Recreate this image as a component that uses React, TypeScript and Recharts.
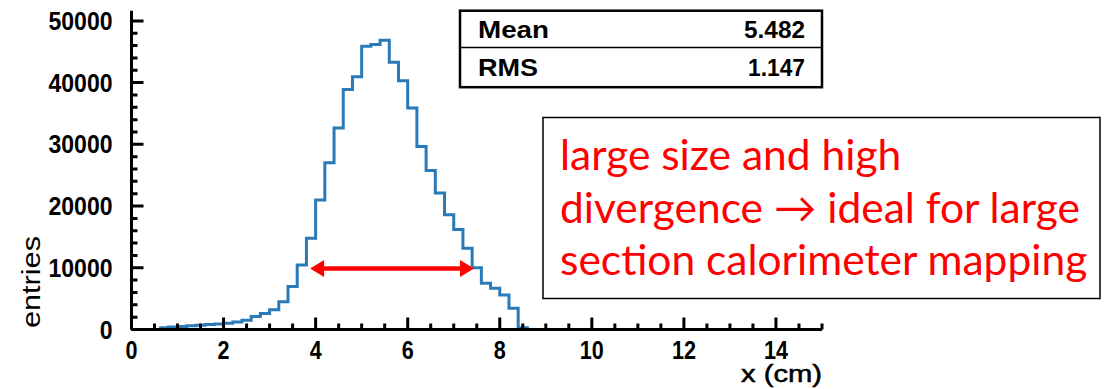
import React from 'react';
import { ComposedChart, Line, XAxis, YAxis, ReferenceLine } from 'recharts';

// ---- data ----
const binStart = 0.6;
const binWidth = 0.2;
const counts = [
  300, 400, 500, 600, 700, 800, 900, 1000, 1200, 1500,
  2100, 2600, 3200, 4500, 6950, 10470, 14800, 21000, 27000, 32650,
  38870, 40930, 45900, 46170, 46870, 43300, 40300, 35900, 29650, 25750,
  22100, 18580, 16200, 13180, 10000, 7500, 6700, 5600, 3440, 300,
];
const emptyFrom = 8.6;
const xMin = 0;
const xMax = 15;
const yMax = 51650;

const xTicks = [0, 0.5, 1, 1.5, 2, 2.5, 3, 3.5, 4, 4.5, 5, 5.5, 6, 6.5, 7, 7.5, 8, 8.5, 9, 9.5, 10, 10.5, 11, 11.5, 12, 12.5, 13, 13.5, 14, 14.5, 15];
const xMajor = [0, 2, 4, 6, 8, 10, 12, 14];
const yTicks = [0, 2000, 4000, 6000, 8000, 10000, 12000, 14000, 16000, 18000, 20000, 22000, 24000, 26000, 28000, 30000, 32000, 34000, 36000, 38000, 40000, 42000, 44000, 46000, 48000, 50000];
const yMajor = [0, 10000, 20000, 30000, 40000, 50000];

const statsLabels = ['Mean', 'RMS'];
const statsValues = ['5.482', '1.147'];
const noteLines = ['large size and high', 'divergence \u2192 ideal for large', 'section calorimeter mapping'];
const arrowFrom = 3.88;
const arrowTo = 7.44;
const arrowLevel = 9900;

const data = [
  ...counts.map((c, i) => ({ x: +(binStart + i * binWidth).toFixed(2), count: c })),
  { x: emptyFrom, count: 0 },
  { x: xMax, count: 0 },
];

// ---- layout ----
const W = 1110;
const H = 389;
const PLOT_LEFT = 131.5;
const PLOT_TOP = 10.7;
const PLOT_RIGHT = 822;
const PLOT_BOTTOM = 329.5;
const xPx = (v: number) => PLOT_LEFT + ((v - xMin) / (xMax - xMin)) * (PLOT_RIGHT - PLOT_LEFT);
const yPx = (v: number) => PLOT_BOTTOM - (v / yMax) * (PLOT_BOTTOM - PLOT_TOP);

const tickPath =
  xTicks.map((v) => `M${xPx(v)},${PLOT_BOTTOM}V${PLOT_BOTTOM - (xMajor.includes(v) ? 12 : 6)}`).join('') +
  yTicks.map((v) => `M${PLOT_LEFT},${yPx(v)}H${PLOT_LEFT + (yMajor.includes(v) ? 12 : 6)}`).join('');

const rootFont = "'Liberation Sans', Arial, sans-serif";

const XTickLabel = (props: any) => {
  const { x, y, payload } = props;
  const label = String(payload.value);
  return (
    <text x={x} y={y} textAnchor="middle" fontFamily={rootFont} fontWeight="bold" fontSize={25} fill="#000"
      textLength={label.length * 12} lengthAdjust="spacingAndGlyphs">{label}</text>
  );
};

const YTickLabel = (props: any) => {
  const { x, y, payload } = props;
  const label = String(payload.value);
  return (
    <text x={x} y={y} dy="0.36em" textAnchor="end" fontFamily={rootFont} fontWeight="bold" fontSize={25} fill="#000"
      textLength={label.length * 12.8} lengthAdjust="spacingAndGlyphs">{label}</text>
  );
};

const ArrowShape = (props: any) => {
  const { x1, y1, x2, y2 } = props;
  const head = 14;
  const half = 8.5;
  return (
    <g>
      <line x1={x1 + head - 2} y1={y1} x2={x2 - head + 2} y2={y2} stroke="#ff0000" strokeWidth={4.5} />
      <polygon points={`${x1},${y1} ${x1 + head},${y1 - half} ${x1 + head},${y1 + half}`} fill="#ff0000" />
      <polygon points={`${x2},${y2} ${x2 - head},${y2 - half} ${x2 - head},${y2 + half}`} fill="#ff0000" />
    </g>
  );
};

export default function App() {
  return (
    <div style={{ position: 'absolute', left: 0, top: 0, width: W, height: H, background: '#fff' }}>
      <ComposedChart width={W} height={H} data={data}
        margin={{ top: PLOT_TOP, right: W - PLOT_RIGHT, bottom: 0, left: 0 }}>
        <XAxis dataKey="x" type="number" domain={[xMin, xMax]} ticks={xMajor} interval={0} tickSize={0} tickMargin={29}
          tickLine={false} tick={<XTickLabel />} height={H - PLOT_BOTTOM} axisLine={{ stroke: '#000', strokeWidth: 3 }} />
        <XAxis xAxisId="top" orientation="top" type="number" domain={[xMin, xMax]} height={0} tick={false} tickLine={false}
          axisLine={{ stroke: '#000', strokeWidth: 2.5 }} />
        <YAxis type="number" domain={[0, yMax]} ticks={yMajor} interval={0} tickSize={0} tickMargin={19}
          tickLine={false} tick={<YTickLabel />} width={PLOT_LEFT} axisLine={{ stroke: '#000', strokeWidth: 3 }} />
        <YAxis yAxisId="right" orientation="right" type="number" domain={[0, yMax]} width={0} tick={false} tickLine={false}
          axisLine={{ stroke: '#000', strokeWidth: 2.5 }} />
        <Line type="stepAfter" dataKey="count" stroke="#2a7ab8" strokeWidth={3} dot={false} activeDot={false} isAnimationActive={false} />
        <ReferenceLine segment={[{ x: arrowFrom, y: arrowLevel }, { x: arrowTo, y: arrowLevel }]} shape={(p: any) => <ArrowShape {...p} />} />
      </ComposedChart>
      <svg width={W} height={H} style={{ position: 'absolute', left: 0, top: 0, pointerEvents: 'none' }}>
        {/* inward ROOT-style tick marks */}
        <path d={tickPath} fill="none" stroke="#000" strokeWidth={3} />
        {/* axis titles */}
        <text transform="translate(40,328) rotate(-90)" fontFamily={rootFont} fontSize={25} fill="#000"
          textLength={92} lengthAdjust="spacingAndGlyphs">entries</text>
        <text x={PLOT_RIGHT} y={382} textAnchor="end" fontFamily={rootFont} fontSize={23} fill="#000" stroke="#000" strokeWidth={0.5}
          textLength={81} lengthAdjust="spacingAndGlyphs">x (cm)</text>
        {/* stats box */}
        <rect x={460} y={PLOT_TOP} width={PLOT_RIGHT - 460} height={76.5} fill="#fff" stroke="#000" strokeWidth={2.5} />
        <line x1={460} x2={PLOT_RIGHT} y1={47.5} y2={47.5} stroke="#000" strokeWidth={1.5} />
        {statsLabels.map((s, i) => (
          <text key={s} x={478} y={38 + i * 38} fontFamily={rootFont} fontWeight="bold" fontSize={23} fill="#000"
            textLength={s === 'Mean' ? 71 : 60} lengthAdjust="spacingAndGlyphs">{s}</text>
        ))}
        {statsValues.map((s, i) => (
          <text key={s} x={805} y={38 + i * 38} textAnchor="end" fontFamily={rootFont} fontWeight="bold" fontSize={23} fill="#000"
            textLength={i === 0 ? 61 : 57} lengthAdjust="spacingAndGlyphs">{s}</text>
        ))}
        {/* annotation */}
        <rect x={543} y={117.5} width={557} height={181} fill="#fff" stroke="#000" strokeWidth={1.5} />
        {noteLines.map((l, i) => (
          <text key={i} x={560} y={170 + i * 52.5} fontFamily="Lato, 'Noto Sans', sans-serif" fontSize={42.5} fill="#ff0000">{l}</text>
        ))}
      </svg>
    </div>
  );
}
